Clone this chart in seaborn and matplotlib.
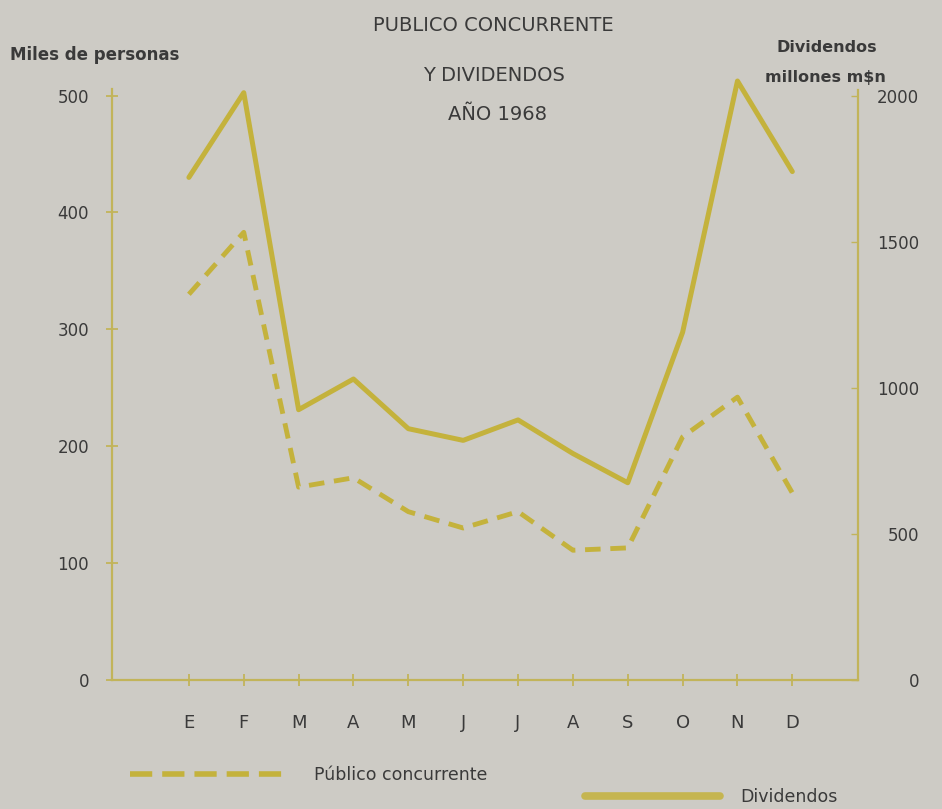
import numpy as np
import pandas as pd
import matplotlib.pyplot as plt
import seaborn as sns
from matplotlib.lines import Line2D

# datos (año 1968)
meses = ['E', 'F', 'M', 'A', 'M', 'J', 'J', 'A', 'S', 'O', 'N', 'D']
publico = [330, 383, 165, 173, 144, 130, 144, 111, 113, 208, 242, 160]        # miles de personas
dividendos = [1720, 2010, 925, 1030, 860, 820, 890, 775, 675, 1190, 2050, 1740]  # millones m$n
ticks_izq = [0, 100, 200, 300, 400, 500]
ticks_der = [0, 500, 1000, 1500, 2000]

papel = '#cdcbc5'
oro = '#c4b23c'
eje = '#c2b45a'
tinta = '#3a3a3a'

sns.set_theme(style='white', rc={'figure.facecolor': papel, 'axes.facecolor': papel})
plt.rcParams['font.family'] = ['DejaVu Sans']

df = pd.DataFrame({'mes': np.arange(len(meses)), 'publico': publico, 'dividendos': dividendos})

fig = plt.figure(figsize=(9.42, 8.09), dpi=100)
ax = fig.add_axes([0.119, 0.1595, 0.792, 0.744])
ax2 = ax.twinx()

sns.lineplot(data=df, x='mes', y='publico', ax=ax, color=oro, lw=3.5,
             ls=(0, (3.2, 2.0)), clip_on=False)
sns.lineplot(data=df, x='mes', y='dividendos', ax=ax2, color=oro, lw=3.6, clip_on=False)

ax.set_xlim(-1.4, 12.2)
ax.set_ylim(0, 515)
ax2.set_ylim(0, 515 * 4)
ax.set_xlabel('')
ax.set_ylabel('')
ax2.set_ylabel('')

ax.set_xticks(df['mes'])
ax.set_xticklabels(meses)
ax.set_yticks(ticks_izq)
ax2.set_yticks(ticks_der)

for s in ['top', 'right']:
    ax.spines[s].set_visible(False)
for s in ['top', 'left', 'bottom']:
    ax2.spines[s].set_visible(False)
for s in ['left', 'bottom']:
    ax.spines[s].set_color(eje)
    ax.spines[s].set_linewidth(1.6)
ax.spines['left'].set_bounds(0, 506)
ax2.spines['right'].set_color(eje)
ax2.spines['right'].set_linewidth(1.6)
ax2.spines['right'].set_bounds(0, 2020)

ax.tick_params(axis='x', direction='inout', length=9, width=1.3, color=eje,
               labelsize=13, labelcolor=tinta, pad=20, bottom=True)
ax.tick_params(axis='y', direction='inout', length=9, width=1.3, color=eje,
               labelsize=12, labelcolor=tinta, pad=12, left=True)
ax2.tick_params(axis='y', direction='in', length=5, width=1, color=eje,
                labelsize=12, labelcolor=tinta, pad=44, right=True)
for lab in ax2.get_yticklabels():
    lab.set_horizontalalignment('right')

# titulo y rotulos de ejes
fig.text(0.524, 0.969, 'PUBLICO CONCURRENTE', ha='center', va='center', fontsize=14, color=tinta)
fig.text(0.524, 0.907, 'Y DIVIDENDOS', ha='center', va='center', fontsize=14, color=tinta)
fig.text(0.528, 0.858, 'AÑO 1968', ha='center', va='center', fontsize=14, color=tinta)
fig.text(0.011, 0.932, 'Miles de personas', ha='left', va='center', fontsize=12,
         fontweight='bold', color=tinta)
fig.text(0.878, 0.941, 'Dividendos', ha='center', va='center', fontsize=11.5,
         fontweight='bold', color=tinta)
fig.text(0.876, 0.904, 'millones m$n', ha='center', va='center', fontsize=11.5,
         fontweight='bold', color=tinta)

# leyendas separadas, como en el original
h1 = Line2D([], [], color=oro, lw=4, ls=(0, (4, 1.8)))
h2 = Line2D([], [], color=oro, lw=5.5, alpha=0.85)
l1 = fig.legend(handles=[h1], labels=['Público concurrente'], loc='center left',
                bbox_to_anchor=(0.138, 0.042), frameon=False, fontsize=12.5,
                handlelength=9.2, handletextpad=1.4, borderpad=0, borderaxespad=0)
l2 = fig.legend(handles=[h2], labels=['Dividendos'], loc='center left',
                bbox_to_anchor=(0.621, 0.015), frameon=False, fontsize=12.5,
                handlelength=7.8, handletextpad=1.15, borderpad=0, borderaxespad=0)
for t in l1.get_texts() + l2.get_texts():
    t.set_color(tinta)

fig.savefig('out.png', dpi=100, facecolor=papel)
